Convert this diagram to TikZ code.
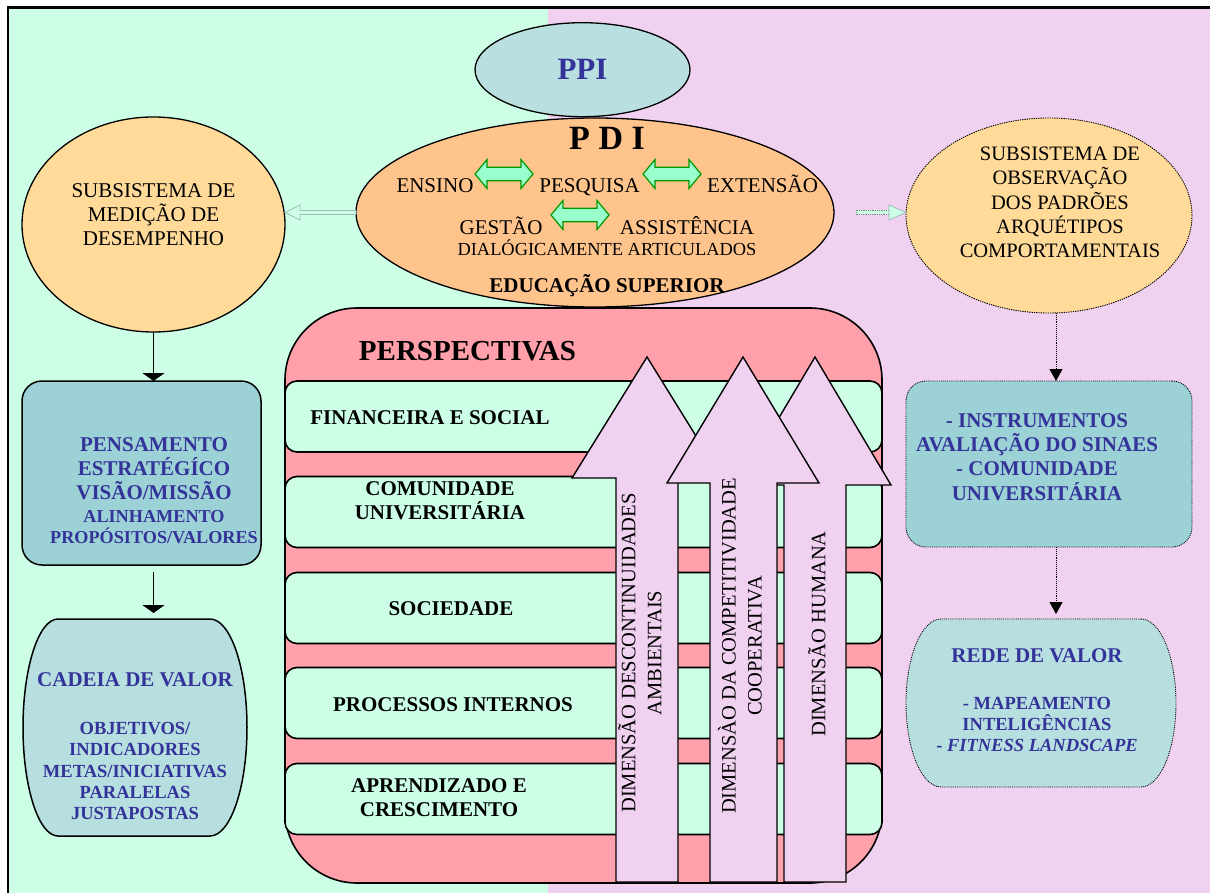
\documentclass[tikz,border=0pt]{standalone}
\usepackage{fontspec}
\setmainfont{Liberation Serif}
\usetikzlibrary{shapes.geometric,arrows.meta,calc}
\definecolor{mintbg}{HTML}{CCFFE6}
\definecolor{pinkbg}{HTML}{F0D2F0}
\definecolor{ppifill}{HTML}{B9DFE1}
\definecolor{pdifill}{HTML}{FFC48C}
\definecolor{subfill}{HTML}{FFDA99}
\definecolor{tealfill}{HTML}{9CD2D6}
\definecolor{lightteal}{HTML}{B8DFE0}
\definecolor{salmon}{HTML}{FFA0AA}
\definecolor{navy}{HTML}{333399}
\definecolor{dblgreen}{HTML}{99FFCC}
\definecolor{dbledge}{HTML}{009900}
\definecolor{hollowedge}{HTML}{9FBDBD}
\newcommand\myfs[2]{\fontsize{#1}{#2}\selectfont}
\begin{document}
\begin{tikzpicture}[x=1pt,y=-1pt,
  every node/.style={inner sep=0pt,outer sep=0pt},
  ell/.style={ellipse,draw=black,line width=1.3pt},
  dottedge/.style={draw=black,densely dotted,line width=0.9pt},
  stripebox/.style={draw=black,line width=1.6pt,fill=mintbg,rounded corners=12pt,minimum width=597pt,minimum height=71pt},
  stripetxt/.style={align=center,font=\myfs{21}{24}\bfseries},
  bluetxt/.style={align=center,text=navy},
  bigarrow/.style={draw=black,line width=1.4pt,fill=pinkbg,line join=miter},
  dimtxt/.style={rotate=90,align=center,font=\myfs{20.5}{26}},
  blackarrow/.style={line width=1.6pt,-{Triangle[width=22pt,length=8pt]}},
  dotarrow/.style={densely dotted,line width=0.9pt,-{Triangle[width=13pt,length=12pt]}},
  dblarrow/.pic={\draw[draw=dbledge,fill=dblgreen,line width=1.2pt,line join=miter]
     (-29,0) -- (-17,-14.5) -- (-17,-6.7) -- (17,-6.7) -- (17,-14.5) -- (29,0)
     -- (17,14.5) -- (17,6.7) -- (-17,6.7) -- (-17,14.5) -- cycle;}
]
\useasboundingbox (0,0) rectangle (1210,893);
\clip (0,0) rectangle (1210,893);
% backgrounds
\fill[white] (0,0) rectangle (1210,893);
\fill[mintbg] (7,7) rectangle (548,893);
\fill[pinkbg] (548,7) rectangle (1210,893);
\draw[line width=2.4pt] (8,900) -- (8,7.5) -- (1220,7.5);

% perspectives block
\node[draw=black,line width=1.6pt,fill=salmon,rounded corners=72pt,minimum width=597pt,minimum height=575pt] (persp) at (583.5,595.5) {};
\node[font=\myfs{29}{32}\bfseries] (tpersp) at (467.5,351) {PERSPECTIVAS};
\node[stripebox] (fin) at (583.5,416.5) {};
\node[stripebox] (com) at (583.5,512) {};
\node[stripebox] (soc) at (583.5,608) {};
\node[stripebox] (proc) at (583.5,703) {};
\node[stripebox] (apr) at (583.5,799) {};
\node[stripetxt] (tfin) at (430,418) {FINANCEIRA E SOCIAL};
\node[stripetxt] (tcom) at (440,501) {COMUNIDADE\\UNIVERSITÁRIA};
\node[stripetxt] (tsoc) at (451,609) {SOCIEDADE};
\node[stripetxt] (tproc) at (453,705) {PROCESSOS INTERNOS};
\node[stripetxt] (tapr) at (439,797.5) {APRENDIZADO E\\CRESCIMENTO};

% dimension arrows
\draw[bigarrow] (616,882) -- (616,478) -- (572,478) -- (647,357) -- (722,478) -- (678,478) -- (678,882) -- cycle;
\draw[bigarrow] (784,882) -- (784,485) -- (739,485) -- (815,357) -- (891,485) -- (846,485) -- (846,882) -- cycle;
\draw[bigarrow] (710,882) -- (710,483) -- (667,483) -- (743,357) -- (819,483) -- (777,483) -- (777,882) -- cycle;
\node[dimtxt] (d1) at (640,653) {DIMENSÃO DESCONTINUIDADES\\AMBIENTAIS};
\node[dimtxt] (d2) at (740,646) {DIMENSÀO DA COMPETITIVIDADE\\COOPERATIVA};
\node[dimtxt] (d3) at (817,634) {DIMENSÃO HUMANA};

% PDI and PPI
\node[ell,fill=pdifill,minimum width=478pt,minimum height=189pt] (pdi) at (595,212.5) {};
\node[ell,fill=ppifill,minimum width=215pt,minimum height=94pt,font=\myfs{31}{34}\bfseries,text=navy] (ppi) at (582.5,69.7) {PPI};
\node[font=\myfs{34}{36}\bfseries,anchor=base] (tpdi) at (607,150) {P D I};
\node[font=\myfs{21}{24},anchor=base] (ensino) at (435,193) {ENSINO};
\node[font=\myfs{21}{24},anchor=base] (pesquisa) at (589.5,193) {PESQUISA};
\node[font=\myfs{21}{24},anchor=base] (extensao) at (762.5,193) {EXTENSÃO};
\node[font=\myfs{21}{24},anchor=base] (gestao) at (501,235) {GESTÃO};
\node[font=\myfs{21}{24},anchor=base] (assist) at (687,235) {ASSISTÊNCIA};
\node[font=\myfs{18.4}{20},anchor=base] (dial) at (607,256) {DIALÓGICAMENTE ARTICULADOS};
\node[font=\myfs{21}{24}\bfseries,anchor=base] (edu) at (607,293) {EDUCAÇÃO SUPERIOR};
\pic at (504,174) {dblarrow};
\pic at (672,174) {dblarrow};
\pic at (580,215) {dblarrow};

% left column
\node[ell,fill=subfill,minimum width=263pt,minimum height=215pt] (medicao) at (153.5,224.5) {};
\node[align=center,font=\myfs{21}{24}] (tmed) at (153.5,215) {SUBSISTEMA DE\\MEDIÇÃO DE\\DESEMPENHO};
\node[draw=black,line width=1.5pt,fill=tealfill,rounded corners=20pt,minimum width=239pt,minimum height=184pt] (pens) at (141.5,473) {};
\node[bluetxt,font=\myfs{21}{24}\bfseries] (tpens1) at (154,469) {PENSAMENTO\\ESTRATÉGÍCO\\VISÃO/MISSÃO};
\node[bluetxt,font=\myfs{18.2}{20.6}\bfseries] (tpens2) at (154,527) {ALINHAMENTO\\PROPÓSITOS/VALORES};
\node[minimum width=224pt,minimum height=217pt] (cadeia) at (135,727.5) {};
\draw[line width=1.5pt,fill=lightteal] ($(cadeia.north east)+(-37,0)$) arc[start angle=-90,end angle=90,x radius=37,y radius=108.5]
   -- ($(cadeia.south west)+(35,0)$) arc[start angle=90,end angle=270,x radius=35,y radius=108.5] -- cycle;
\node[bluetxt,font=\myfs{21}{24}\bfseries] (tcad1) at (135,680) {CADEIA DE VALOR};
\node[bluetxt,font=\myfs{18.5}{21.3}\bfseries] (tcad2) at (135,771) {OBJETIVOS/\\INDICADORES\\METAS/INICIATIVAS\\PARALELAS\\JUSTAPOSTAS};

% right column
\node[ell,dottedge,fill=subfill,minimum width=286pt,minimum height=195pt] (observ) at (1049,215.5) {};
\node[align=center,font=\myfs{20.5}{24.3}] (tobs) at (1060,202.5) {SUBSISTEMA DE\\OBSERVAÇÃO\\DOS PADRÕES\\ARQUÉTIPOS\\COMPORTAMENTAIS};
\node[dottedge,fill=tealfill,rounded corners=20pt,minimum width=286pt,minimum height=166pt] (instr) at (1049,464) {};
\node[bluetxt,font=\myfs{21}{24.3}\bfseries] (tinstr) at (1037,457) {- INSTRUMENTOS\\AVALIAÇÃO DO SINAES\\- COMUNIDADE\\UNIVERSITÁRIA};
\node[minimum width=270pt,minimum height=168pt] (rede) at (1041,703) {};
\draw[dottedge,fill=lightteal] ($(rede.north east)+(-35,0)$) arc[start angle=-90,end angle=90,x radius=35,y radius=84]
   -- ($(rede.south west)+(35,0)$) arc[start angle=90,end angle=270,x radius=35,y radius=84] -- cycle;
\node[bluetxt,font=\myfs{21}{24}\bfseries] (trede1) at (1037,656) {REDE DE VALOR};
\node[bluetxt,font=\myfs{18.5}{21}\bfseries] (trede2) at (1037,724) {- MAPEAMENTO\\INTELIGÊNCIAS\\- \textit{FITNESS LANDSCAPE}};

% connectors
\coordinate (hl) at (medicao.east |- pdi.west);
\draw[draw=hollowedge,fill=mintbg,line width=0.8pt,line join=miter] (hl) -- ++(15,-7.5) -- ++(0,5.5) -- ($(pdi.west)+(0,-2)$)
   -- ($(pdi.west)+(0,2)$) -- ($(hl)+(15,2)$) -- ++(0,5.5) -- cycle;
\coordinate (hr) at (observ.west |- pdi.east);
\draw[draw=gray,densely dotted,fill=mintbg,line width=0.8pt] ($(pdi.east)+(22,-2)$) rectangle ($(hr)+(-17,2)$);
\draw[draw=hollowedge,fill=mintbg,line width=0.8pt,line join=miter] (hr) -- ($(hr)+(-17,-7.5)$) -- ($(hr)+(-17,7.5)$) -- cycle;

\draw[blackarrow] (medicao.south) -- (medicao.south |- pens.north);
\draw[blackarrow,shorten <=7pt,shorten >=6pt] (pens.south -| medicao.south) -- (medicao.south |- cadeia.north);
\coordinate (rx) at (1056,0);
\draw[dotarrow] (observ.south -| rx) -- (instr.north -| rx);
\draw[dotarrow,shorten >=5pt] (instr.south -| rx) -- (rede.north -| rx);
\end{tikzpicture}
\end{document}
